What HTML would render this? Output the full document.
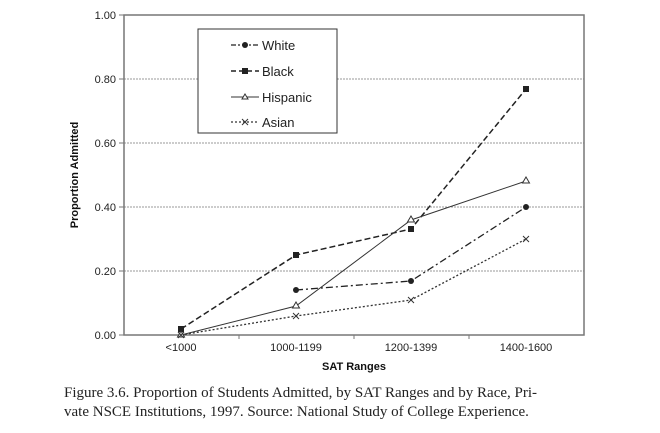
<!DOCTYPE html>
<html><head><style>
body{margin:0;background:#fff;}
svg{display:block;}
</style></head><body>
<svg width="660" height="433" viewBox="0 0 660 433" xmlns="http://www.w3.org/2000/svg" font-family="Liberation Sans, sans-serif">
<g stroke="#999" stroke-dasharray="2,1" stroke-width="1">
<line x1="124" y1="79" x2="584" y2="79"/>
<line x1="124" y1="143" x2="584" y2="143"/>
<line x1="124" y1="207" x2="584" y2="207"/>
<line x1="124" y1="271" x2="584" y2="271"/>
</g>
<rect x="124" y="15" width="460" height="320" fill="none" stroke="#777" stroke-width="1.5"/>
<g stroke="#777" stroke-width="1">
<line x1="119" y1="15" x2="124" y2="15"/><line x1="119" y1="79" x2="124" y2="79"/><line x1="119" y1="143" x2="124" y2="143"/><line x1="119" y1="207" x2="124" y2="207"/><line x1="119" y1="271" x2="124" y2="271"/><line x1="119" y1="335" x2="124" y2="335"/>
<line x1="239" y1="335" x2="239" y2="339"/><line x1="354" y1="335" x2="354" y2="339"/><line x1="469" y1="335" x2="469" y2="339"/>
</g>
<g font-size="11" fill="#222" text-anchor="end">
<text x="116" y="19">1.00</text><text x="116" y="83">0.80</text><text x="116" y="147">0.60</text><text x="116" y="211">0.40</text><text x="116" y="275">0.20</text><text x="116" y="339">0.00</text>
</g>
<g font-size="11" fill="#222" text-anchor="middle">
<text x="181" y="351">&lt;1000</text><text x="296" y="351">1000-1199</text><text x="411" y="351">1200-1399</text><text x="526" y="351">1400-1600</text>
</g>
<text x="354" y="370" font-size="11" font-weight="bold" text-anchor="middle" fill="#111">SAT Ranges</text>
<text transform="translate(78,175) rotate(-90)" font-size="11" font-weight="bold" text-anchor="middle" fill="#111">Proportion Admitted</text>
<polyline points="296,290 411,281 526,207" fill="none" stroke="#222" stroke-width="1.3" stroke-dasharray="7,3,2,3"/>
<polyline points="181,329 296,255 411,229 526,89" fill="none" stroke="#222" stroke-width="1.5" stroke-dasharray="6,3"/>
<polyline points="181,335 296,306 411,220 526,181" fill="none" stroke="#333" stroke-width="1"/>
<polyline points="181,335 296,316 411,300 526,239" fill="none" stroke="#333" stroke-width="1.3" stroke-dasharray="2,2"/>
<g fill="#222">
<circle cx="296" cy="290" r="3"/><circle cx="411" cy="281" r="3"/><circle cx="526" cy="207" r="3"/>
<rect x="178" y="326" width="6" height="6"/><rect x="293" y="252" width="6" height="6"/><rect x="408" y="226" width="6" height="6"/><rect x="523" y="86" width="6" height="6"/>
</g>
<g fill="#fff" stroke="#333" stroke-width="1">
<polygon points="181,331 184.5,337 177.5,337"/><polygon points="296,302 299.5,308 292.5,308"/><polygon points="411,216 414.5,222 407.5,222"/><polygon points="526,177 529.5,183 522.5,183"/>
</g>
<g stroke="#333" stroke-width="1">
<path d="M178,332l6,6M184,332l-6,6M293,313l6,6M299,313l-6,6M408,297l6,6M414,297l-6,6M523,236l6,6M529,236l-6,6"/>
</g>
<rect x="198" y="29" width="139" height="104" fill="#fff" stroke="#333" stroke-width="1"/>
<g font-size="13" fill="#222">
<text x="262" y="50">White</text><text x="262" y="76">Black</text><text x="262" y="102">Hispanic</text><text x="262" y="127">Asian</text>
</g>
<line x1="231" y1="45" x2="259" y2="45" stroke="#222" stroke-width="1.3" stroke-dasharray="5,2,2,2"/><circle cx="245" cy="45" r="3" fill="#222"/>
<line x1="231" y1="71" x2="259" y2="71" stroke="#222" stroke-width="1.5" stroke-dasharray="5,3"/><rect x="242" y="68" width="6" height="6" fill="#222"/>
<line x1="231" y1="97" x2="259" y2="97" stroke="#333" stroke-width="1"/><polygon points="245,94 248,99 242,99" fill="#fff" stroke="#333"/>
<line x1="231" y1="122" x2="259" y2="122" stroke="#333" stroke-width="1.3" stroke-dasharray="2,2"/><path d="M242,119l6,6M248,119l-6,6" stroke="#333"/>
<g font-family="Liberation Serif, serif" font-size="15" fill="#222">
<text x="64" y="397">Figure 3.6. Proportion of Students Admitted, by SAT Ranges and by Race, Pri-</text>
<text x="64" y="416">vate NSCE Institutions, 1997. Source: National Study of College Experience.</text>
</g>
</svg>
</body></html>
